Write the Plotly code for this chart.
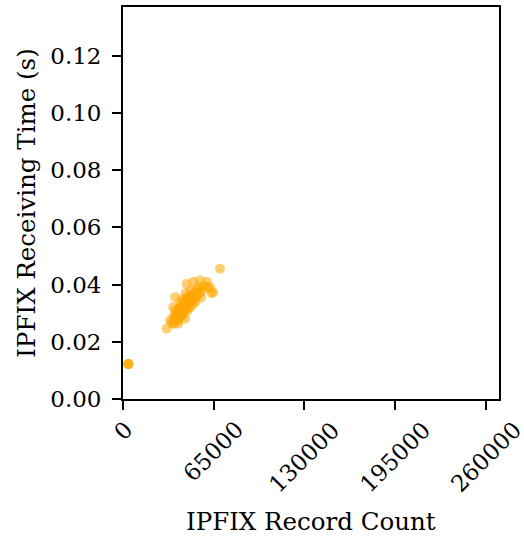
import plotly.graph_objects as go

record_count = [
    3800, 3800, 3800,
    31300, 33700, 35000, 36000, 37000, 36500, 37300, 36000, 37500, 38000,
    38500, 39000, 39600, 40000, 40500, 41000, 41500, 42000, 42500, 43000,
    43500, 44000, 44400, 45000, 45600, 45000, 46000, 46500, 47000, 47500,
    48000, 48500, 49000, 50000, 50400, 51000, 51500, 52000, 53000, 54000,
    55200, 55000, 56000, 57000, 58000, 60000, 61000, 62300, 63500, 64700,
    69500,
    38000, 39000, 40000, 41000, 42000, 43000, 44000, 45000, 46000, 47000,
    39500, 40500, 41500, 42500, 43500, 44500, 45500, 46500, 48000, 49000,
    37000, 38500, 40000, 42000, 44000, 46000, 48000, 50000, 52000, 54000,
]
receiving_time = [
    0.0122, 0.0122, 0.0122,
    0.0246, 0.0275, 0.0265, 0.0262, 0.0270, 0.0290, 0.0356, 0.0321, 0.0310, 0.0300,
    0.0285, 0.0278, 0.0263, 0.0295, 0.0320, 0.0340, 0.0305, 0.0290, 0.0330, 0.0350,
    0.0315, 0.0300, 0.0281, 0.0325, 0.0402, 0.0370, 0.0345, 0.0310, 0.0335, 0.0360,
    0.0320, 0.0380, 0.0345, 0.0330, 0.0410, 0.0370, 0.0350, 0.0340, 0.0360, 0.0390,
    0.0414, 0.0370, 0.0355, 0.0380, 0.0395, 0.0410, 0.0390, 0.0391, 0.0370, 0.0373,
    0.0455,
    0.0290, 0.0300, 0.0310, 0.0300, 0.0315, 0.0325, 0.0330, 0.0335, 0.0330, 0.0345,
    0.0275, 0.0285, 0.0295, 0.0305, 0.0310, 0.0315, 0.0320, 0.0325, 0.0340, 0.0355,
    0.0280, 0.0295, 0.0305, 0.0320, 0.0340, 0.0355, 0.0350, 0.0360, 0.0375, 0.0385,
]

x_ticks = [0, 65000, 130000, 195000, 260000]
y_ticks = [0.00, 0.02, 0.04, 0.06, 0.08, 0.10, 0.12]

x_title = "IPFIX Record Count"
y_title = "IPFIX Receiving Time (s)"

font_family = "DejaVu Serif"
tick_size = 23
title_size = 24.5

fig = go.Figure(
    go.Scatter(
        x=record_count,
        y=receiving_time,
        mode="markers",
        marker=dict(color="orange", size=10, opacity=0.55, line=dict(width=0)),
        showlegend=False,
    )
)

axis_common = dict(
    showline=True,
    linecolor="black",
    linewidth=1.8,
    mirror=True,
    ticks="outside",
    ticklen=9,
    tickwidth=1.5,
    tickcolor="black",
    showgrid=False,
    zeroline=False,
    tickfont=dict(family=font_family, size=tick_size, color="black"),
)

fig.update_xaxes(
    **axis_common,
    range=[0, 269500],
    tickvals=x_ticks,
    showticklabels=False,
)
fig.update_yaxes(
    **axis_common,
    range=[0, 0.137],
    tickvals=y_ticks,
    ticktext=[f"{v:.2f}" for v in y_ticks],
    ticklabelstandoff=6,
    title=dict(text=y_title, font=dict(family=font_family, size=title_size, color="black"), standoff=8),
)

# rotated x tick labels, centred under each tick (matplotlib style)
for v in x_ticks:
    fig.add_annotation(
        x=v, xref="x", y=0, yref="paper",
        text=str(v), textangle=-45,
        xanchor="center", yanchor="top",
        yshift=-16, showarrow=False, borderpad=0,
        font=dict(family=font_family, size=tick_size, color="black"),
    )

fig.add_annotation(
    x=0.5, xref="paper", y=0, yref="paper",
    text=x_title, xanchor="center", yanchor="middle",
    yshift=-122, showarrow=False,
    font=dict(family=font_family, size=title_size, color="black"),
)

fig.update_layout(
    width=524,
    height=537,
    margin=dict(l=123, r=25, t=5, b=138),
    plot_bgcolor="white",
    paper_bgcolor="white",
)

fig.write_html("out.html")
